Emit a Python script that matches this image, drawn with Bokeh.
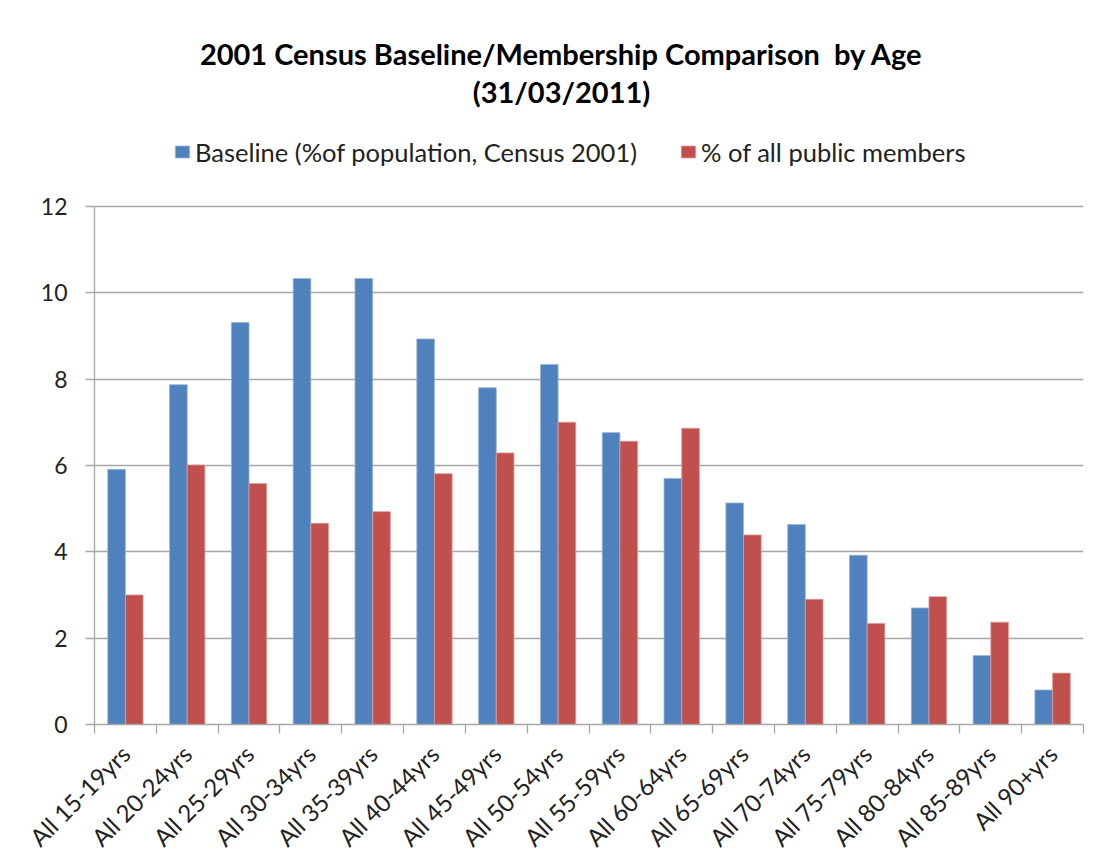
import math
from bokeh.plotting import figure
from bokeh.models import (ColumnDataSource, Range1d, FixedTicker, Label, Legend, LegendItem)
from bokeh.transform import dodge
from bokeh.embed import file_html
from bokeh.resources import INLINE

# ---- data ----
categories = ["All 15-19yrs", "All 20-24yrs", "All 25-29yrs", "All 30-34yrs",
              "All 35-39yrs", "All 40-44yrs", "All 45-49yrs", "All 50-54yrs",
              "All 55-59yrs", "All 60-64yrs", "All 65-69yrs", "All 70-74yrs",
              "All 75-79yrs", "All 80-84yrs", "All 85-89yrs", "All 90+yrs"]
baseline = [5.91, 7.87, 9.31, 10.33, 10.33, 8.93, 7.80, 8.34,
            6.76, 5.70, 5.13, 4.63, 3.92, 2.70, 1.60, 0.80]
members = [3.00, 6.01, 5.58, 4.66, 4.93, 5.81, 6.29, 7.00,
           6.56, 6.86, 4.39, 2.90, 2.34, 2.96, 2.37, 1.19]
y_ticks = [0, 2, 4, 6, 8, 10, 12]
title_line1 = "2001 Census Baseline/Membership Comparison\u00a0 by Age"
title_line2 = "(31/03/2011)"
series_names = ["Baseline (%of population, Census 2001)", "% of all public members"]

BLUE = "#4F81BD"
RED = "#C0504D"
GRID = "#A6A6A6"
FONT = "Lato"

# ---- layout (page pixels) ----
W, H = 1107, 864
FRAME_LEFT, FRAME_RIGHT, FRAME_BOTTOM = 94, 1083, 724.5
AXIS_TOP_PX = 206          # where the value 12 sits
y_max = y_ticks[-1]
# the frame extends up to the canvas top so that titles/legend are inside it
y_top = y_max * FRAME_BOTTOM / (FRAME_BOTTOM - AXIS_TOP_PX)

pos = [i + 0.5 for i in range(len(categories))]
src = ColumnDataSource(dict(pos=pos, baseline=baseline, members=members))

p = figure(width=W, height=H, output_backend="svg", toolbar_location=None,
           x_range=Range1d(0, len(categories)), y_range=Range1d(0, y_top),
           min_border_left=FRAME_LEFT, min_border_top=0,
           min_border_right=W - FRAME_RIGHT, min_border_bottom=int(round(H - FRAME_BOTTOM)))
p.title = None
p.outline_line_color = None
p.background_fill_color = "white"
p.border_fill_color = "white"

bw = 0.286
r1 = p.vbar(x=dodge("pos", -bw / 2, range=p.x_range), top="baseline", width=bw, source=src,
            fill_color=BLUE, line_color="#9DB6D8", line_width=0.8)
r2 = p.vbar(x=dodge("pos", bw / 2, range=p.x_range), top="members", width=bw, source=src,
            fill_color=RED, line_color="#DE9C9A", line_width=0.8)

# y axis
yax = p.yaxis[0]
yax.ticker = FixedTicker(ticks=y_ticks)
yax.bounds = (0, y_max)
yax.axis_line_color = GRID
yax.axis_line_width = 1.3
yax.major_tick_line_color = GRID
yax.major_tick_line_width = 1.3
yax.major_tick_out = 9
yax.major_tick_in = 0
yax.minor_tick_line_color = None
yax.major_label_standoff = 18
yax.major_label_text_font = FONT
yax.major_label_text_font_size = "23px"
yax.major_label_text_color = "#222222"

p.ygrid.ticker = FixedTicker(ticks=y_ticks)
p.ygrid.grid_line_color = GRID
p.ygrid.grid_line_width = 1.3
p.xgrid.grid_line_color = None

# x axis
xax = p.xaxis[0]
xax.ticker = FixedTicker(ticks=pos, minor_ticks=list(range(len(categories) + 1)))
xax.major_label_overrides = {pos[i]: categories[i] for i in range(len(categories))}
xax.major_tick_line_color = None
xax.major_tick_out = 0
xax.major_tick_in = 0
xax.minor_tick_line_color = GRID
xax.minor_tick_line_width = 1.3
xax.minor_tick_out = 9
xax.minor_tick_in = 0
xax.axis_line_color = GRID
xax.axis_line_width = 1.3
xax.major_label_orientation = math.pi / 4
xax.major_label_standoff = 16
xax.major_label_text_font = FONT
xax.major_label_text_font_size = "24px"
xax.major_label_text_color = "#222222"

# titles (screen units: relative to frame left / frame bottom)
for txt, base_y in [(title_line1, 53), (title_line2, 91)]:
    p.add_layout(Label(x=561 - FRAME_LEFT, y=FRAME_BOTTOM - base_y,
                       x_units="screen", y_units="screen", text=txt,
                       text_align="center", text_baseline="alphabetic",
                       text_font=FONT, text_font_style="bold",
                       text_font_size="29px", text_color="black"))

legend = Legend(items=[LegendItem(label=series_names[0], renderers=[r1]),
                       LegendItem(label=series_names[1], renderers=[r2])],
                orientation="horizontal",
                location=(173 - FRAME_LEFT, FRAME_BOTTOM - 167),
                glyph_width=18, glyph_height=15, label_standoff=4, spacing=42,
                padding=0, margin=0, border_line_color=None,
                background_fill_alpha=0,
                label_text_font=FONT, label_text_font_size="25.5px",
                label_text_color="#222222")
p.add_layout(legend, "center")

open("out.html", "w").write(file_html(p, INLINE))
